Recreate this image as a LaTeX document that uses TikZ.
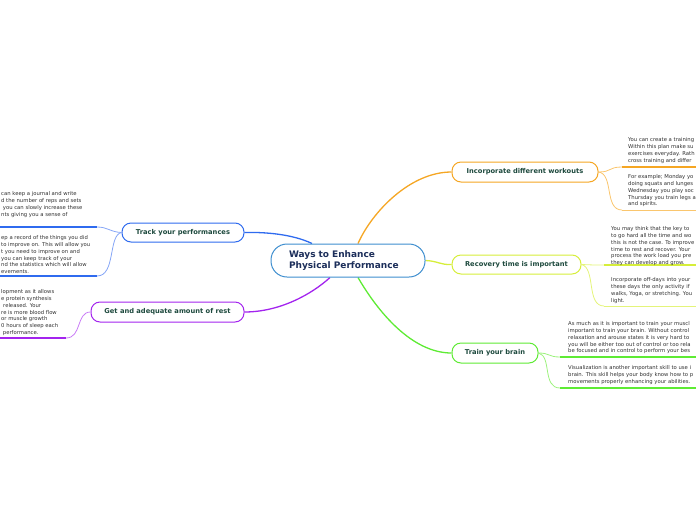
\documentclass[tikz,border=0pt]{standalone}
\usepackage{fontspec}
\setmainfont{DejaVu Sans}
\usetikzlibrary{backgrounds}
\definecolor{corange}{HTML}{F5A623}
\definecolor{lorange}{HTML}{FAC66E}
\definecolor{cyel}{HTML}{D6EE3A}
\definecolor{lyel}{HTML}{E4F47A}
\definecolor{cgreen}{HTML}{5EEB34}
\definecolor{lgreen}{HTML}{9CF27C}
\definecolor{cblue}{HTML}{2F6BEF}
\definecolor{lblue}{HTML}{86A6F6}
\definecolor{cpurp}{HTML}{A324EE}
\definecolor{lpurp}{HTML}{C97CF6}
\definecolor{cmain}{HTML}{3E8ECF}
\definecolor{tnode}{HTML}{1E4A3E}
\definecolor{tmain}{HTML}{1C2E5A}
\definecolor{tleaf}{HTML}{303030}
\tikzset{
  branch/.style={draw, line width=1pt, rounded corners=9pt, fill=white,
    font=\fontsize{6.7}{7.5}\selectfont\bfseries, text=tnode, inner sep=0pt},
  leaf/.style={anchor=north west, inner sep=0pt, align=left,
    font=\fontsize{5.3}{6.8}\selectfont, text=tleaf},
  mainlink/.style={line width=1.3pt},
  sublink/.style={line width=0.8pt},
  uline/.style={line width=2pt},
  thinuline/.style={line width=1pt}
}
\begin{document}
\begin{tikzpicture}[x=1pt,y=-1pt]
\useasboundingbox (0,0) rectangle (696,520);
\clip (0,0) rectangle (696,520);

% central node
\node[draw=cmain, line width=1pt, rounded corners=16pt, fill=white,
  minimum width=154pt, minimum height=33pt, text width=118pt, align=left,
  font=\fontsize{9}{11}\selectfont\bfseries, text=tmain, inner sep=0pt]
  (c) at (348,260.5) {Ways to Enhance\\Physical Performance};

% branches
\node[branch, draw=corange, minimum width=146pt, minimum height=20pt] (inc) at (525,172) {Incorporate different workouts};
\node[branch, draw=cyel, minimum width=129pt, minimum height=19pt] (rec) at (516.5,264.5) {Recovery time is important};
\node[branch, draw=cgreen, minimum width=86pt, minimum height=20pt] (brain) at (495,353) {Train your brain};
\node[branch, draw=cblue, minimum width=122pt, minimum height=19pt] (track) at (183,232.5) {Track your performances};
\node[branch, draw=cpurp, minimum width=153pt, minimum height=20pt] (rest) at (167.5,312) {Get and adequate amount of rest};

% underline coordinates
\coordinate (i1) at (622,167); \coordinate (i1e) at (700,167);
\coordinate (i2) at (622,210); \coordinate (i2e) at (700,210);
\coordinate (r1) at (604,265); \coordinate (r1e) at (700,265);
\coordinate (r2) at (604,306); \coordinate (r2e) at (700,306);
\coordinate (b1) at (560,357); \coordinate (b1e) at (700,357);
\coordinate (b2) at (560,388); \coordinate (b2e) at (700,388);
\coordinate (t1) at (97,227); \coordinate (t1e) at (-4,227);
\coordinate (t2) at (97,276); \coordinate (t2e) at (-4,276);
\coordinate (p1) at (66,338); \coordinate (p1e) at (-4,338);

\begin{pgfonlayer}{background}
\draw[corange, mainlink] ([xshift=10pt]c.north) .. controls (372,212) and (410,172) .. (inc.west);
\draw[cyel, mainlink] (c.east) .. controls (438,261) and (440,265) .. (rec.west);
\draw[cgreen, mainlink] ([xshift=10pt]c.south) .. controls (378,312) and (412,353) .. (brain.west);
\draw[cblue, mainlink] ([xshift=-36pt]c.north) .. controls (292,234) and (265,232) .. (track.east);
\draw[cpurp, mainlink] ([xshift=-18pt]c.south) .. controls (312,294) and (280,312) .. (rest.east);
\end{pgfonlayer}

% leaf connectors and underlines
\draw[lorange, sublink] (inc.east) .. controls (612,172) and (608,167) .. (i1);
\draw[corange, uline] (i1) -- (i1e);
\draw[lorange, sublink] (inc.east) .. controls (614,174) and (604,210) .. (i2);
\draw[lorange, thinuline] (i2) -- (i2e);

\draw[lyel, sublink] (rec.east) .. controls (594,265) and (592,265) .. (r1);
\draw[cyel, uline] (r1) -- (r1e);
\draw[lyel, sublink] (rec.east) .. controls (596,268) and (586,306) .. (r2);
\draw[lyel, thinuline] (r2) -- (r2e);

\draw[lgreen, sublink] (brain.east) .. controls (550,353) and (548,357) .. (b1);
\draw[cgreen, uline] (b1) -- (b1e);
\draw[lgreen, sublink] (brain.east) .. controls (552,356) and (542,388) .. (b2);
\draw[cgreen, uline] (b2) -- (b2e);

\draw[lblue, sublink] (track.west) .. controls (110,232) and (108,227) .. (t1);
\draw[cblue, uline] (t1) -- (t1e);
\draw[lblue, sublink] (track.west) .. controls (108,235) and (116,276) .. (t2);
\draw[cblue, uline] (t2) -- (t2e);

\draw[lpurp, sublink] (rest.west) .. controls (76,312) and (82,338) .. (p1);
\draw[cpurp, uline] (p1) -- (p1e);

% leaf texts
\node[leaf] (li1) at (628,137.5) {You can create a training\\Within this plan make su\\exercises everyday. Rath\\cross training and differ};
\node[leaf] (li2) at (628,174.5) {For example; Monday yo\\doing squats and lunges\\Wednesday you play soc\\Thursday you train legs a\\and spirits.};
\node[leaf] (lr1) at (611,226.5) {You may think that the key to\\to go hard all the time and wo\\this is not the case. To improve\\time to rest and recover. Your\\process the work load you pre\\they can develop and grow.};
\node[leaf] (lr2) at (611,277.5) {Incorporate off-days into your\\these days the only activity if\\walks, Yoga, or stretching. You\\light.};
\node[leaf] (lb1) at (568,321.5) {As much as it is important to train your muscl\\important to train your brain. Without control\\relaxation and arouse states it is very hard to\\you will be either too out of control or too rela\\be focused and in control to perform your bes};
\node[leaf] (lb2) at (568,365.5) {Visualization is another important skill to use i\\brain. This skill helps your body know how to p\\movements properly enhancing your abilities.};
\node[leaf] (lt1) at (1,191.5) {can keep a journal and write\\d the number of reps and sets\\\ you can slowly increase these\\nts giving you a sense of};
\node[leaf] (lt2) at (1,235.5) {ep a record of the things you did\\to improve on. This will allow you\\t you need to improve on and\\you can keep track of your\\nd the statistics which will allow\\evements.};
\node[leaf] (lp1) at (1,289.5) {lopment as it allows\\e protein synthesis\\\hspace{2pt}released. Your\\re is more blood flow\\or muscle growth\\0 hours of sleep each\\\ performance.};
\end{tikzpicture}
\end{document}
